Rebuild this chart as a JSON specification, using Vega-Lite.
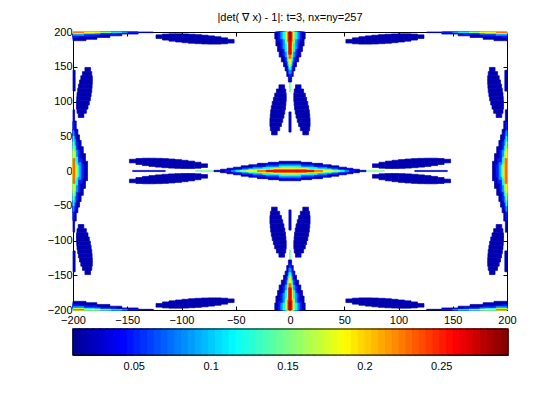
{"$schema":"https://vega.github.io/schema/vega-lite/v6.json","background":"white","padding":{"left":47,"top":12,"right":37,"bottom":30},"spacing":19,"bounds":"flush","config":{"view":{"stroke":null},"font":"Liberation Sans","axis":{"grid":false,"title":null,"tickSize":-4,"tickColor":"black","domainColor":"black","labelColor":"black","labelFont":"Liberation Sans","labelFontSize":11,"labelPadding":5,"zindex":1,"tickWidth":1,"domainWidth":1,"labelOverlap":false,"labelFlush":false}},"vconcat":[{"width":434,"height":278,"title":{"text":"|det( ∇ x) - 1|: t=3, nx=ny=257","fontSize":11,"font":"Liberation Sans","fontWeight":"normal","color":"black","offset":3,"anchor":"middle"},"data":{"values":[
{"a":-123.5,"b":-117.5,"c":190.7,"d":195.9,"v":0.02},{"a":-117.5,"b":-111.5,"c":188.4,"d":197,"v":0.02},{"a":-111.5,"b":-105.5,"c":186.8,"d":197.4,"v":0.02},{"a":-105.5,"b":-99.5,"c":185.6,"d":197.4,"v":0.02},{"a":-99.5,"b":-93.5,"c":184.6,"d":197.2,"v":0.02},{"a":-93.5,"b":-87.5,"c":183.8,"d":196.8,"v":0.02},{"a":-87.5,"b":-81.5,"c":183.2,"d":196.2,"v":0.02},{"a":-81.5,"b":-75.5,"c":182.8,"d":195.4,"v":0.02},{"a":-75.5,"b":-69.5,"c":182.6,"d":194.4,"v":0.02},{"a":-69.5,"b":-63.5,"c":182.6,"d":193.2,"v":0.02},{"a":-63.5,"b":-57.5,"c":183,"d":191.6,"v":0.02},{"a":-57.5,"b":-51.5,"c":184.1,"d":189.3,"v":0.02},
{"a":117.5,"b":123.5,"c":190.7,"d":195.9,"v":0.02},{"a":111.5,"b":117.5,"c":188.4,"d":197,"v":0.02},{"a":105.5,"b":111.5,"c":186.8,"d":197.4,"v":0.02},{"a":99.5,"b":105.5,"c":185.6,"d":197.4,"v":0.02},{"a":93.5,"b":99.5,"c":184.6,"d":197.2,"v":0.02},{"a":87.5,"b":93.5,"c":183.8,"d":196.8,"v":0.02},{"a":81.5,"b":87.5,"c":183.2,"d":196.2,"v":0.02},{"a":75.5,"b":81.5,"c":182.8,"d":195.4,"v":0.02},{"a":69.5,"b":75.5,"c":182.6,"d":194.4,"v":0.02},{"a":63.5,"b":69.5,"c":182.6,"d":193.2,"v":0.02},{"a":57.5,"b":63.5,"c":183,"d":191.6,"v":0.02},{"a":51.5,"b":57.5,"c":184.1,"d":189.3,"v":0.02},
{"a":-123.5,"b":-117.5,"c":-190.7,"d":-195.9,"v":0.02},{"a":-117.5,"b":-111.5,"c":-188.4,"d":-197,"v":0.02},{"a":-111.5,"b":-105.5,"c":-186.8,"d":-197.4,"v":0.02},{"a":-105.5,"b":-99.5,"c":-185.6,"d":-197.4,"v":0.02},{"a":-99.5,"b":-93.5,"c":-184.6,"d":-197.2,"v":0.02},{"a":-93.5,"b":-87.5,"c":-183.8,"d":-196.8,"v":0.02},{"a":-87.5,"b":-81.5,"c":-183.2,"d":-196.2,"v":0.02},{"a":-81.5,"b":-75.5,"c":-182.8,"d":-195.4,"v":0.02},{"a":-75.5,"b":-69.5,"c":-182.6,"d":-194.4,"v":0.02},{"a":-69.5,"b":-63.5,"c":-182.6,"d":-193.2,"v":0.02},{"a":-63.5,"b":-57.5,"c":-183,"d":-191.6,"v":0.02},{"a":-57.5,"b":-51.5,"c":-184.1,"d":-189.3,"v":0.02},
{"a":117.5,"b":123.5,"c":-190.7,"d":-195.9,"v":0.02},{"a":111.5,"b":117.5,"c":-188.4,"d":-197,"v":0.02},{"a":105.5,"b":111.5,"c":-186.8,"d":-197.4,"v":0.02},{"a":99.5,"b":105.5,"c":-185.6,"d":-197.4,"v":0.02},{"a":93.5,"b":99.5,"c":-184.6,"d":-197.2,"v":0.02},{"a":87.5,"b":93.5,"c":-183.8,"d":-196.8,"v":0.02},{"a":81.5,"b":87.5,"c":-183.2,"d":-196.2,"v":0.02},{"a":75.5,"b":81.5,"c":-182.8,"d":-195.4,"v":0.02},{"a":69.5,"b":75.5,"c":-182.6,"d":-194.4,"v":0.02},{"a":63.5,"b":69.5,"c":-182.6,"d":-193.2,"v":0.02},{"a":57.5,"b":63.5,"c":-183,"d":-191.6,"v":0.02},{"a":51.5,"b":57.5,"c":-184.1,"d":-189.3,"v":0.02},
{"a":-148,"b":-142,"c":11.7,"d":16.9,"v":0.02},{"a":-142,"b":-136,"c":9.4,"d":18,"v":0.02},{"a":-136,"b":-130,"c":7.8,"d":18.4,"v":0.02},{"a":-130,"b":-124,"c":6.6,"d":18.4,"v":0.02},{"a":-124,"b":-118,"c":5.6,"d":18.2,"v":0.02},{"a":-118,"b":-112,"c":4.8,"d":17.8,"v":0.02},{"a":-112,"b":-106,"c":4.2,"d":17.2,"v":0.02},{"a":-106,"b":-100,"c":3.8,"d":16.4,"v":0.02},{"a":-100,"b":-94,"c":3.6,"d":15.4,"v":0.02},{"a":-94,"b":-88,"c":3.6,"d":14.2,"v":0.02},{"a":-88,"b":-82,"c":4,"d":12.6,"v":0.02},{"a":-82,"b":-76,"c":5.1,"d":10.3,"v":0.02},
{"a":-148,"b":-142,"c":-11.7,"d":-16.9,"v":0.02},{"a":-142,"b":-136,"c":-9.4,"d":-18,"v":0.02},{"a":-136,"b":-130,"c":-7.8,"d":-18.4,"v":0.02},{"a":-130,"b":-124,"c":-6.6,"d":-18.4,"v":0.02},{"a":-124,"b":-118,"c":-5.6,"d":-18.2,"v":0.02},{"a":-118,"b":-112,"c":-4.8,"d":-17.8,"v":0.02},{"a":-112,"b":-106,"c":-4.2,"d":-17.2,"v":0.02},{"a":-106,"b":-100,"c":-3.8,"d":-16.4,"v":0.02},{"a":-100,"b":-94,"c":-3.6,"d":-15.4,"v":0.02},{"a":-94,"b":-88,"c":-3.6,"d":-14.2,"v":0.02},{"a":-88,"b":-82,"c":-4,"d":-12.6,"v":0.02},{"a":-82,"b":-76,"c":-5.1,"d":-10.3,"v":0.02},
{"a":142,"b":148,"c":11.7,"d":16.9,"v":0.02},{"a":136,"b":142,"c":9.4,"d":18,"v":0.02},{"a":130,"b":136,"c":7.8,"d":18.4,"v":0.02},{"a":124,"b":130,"c":6.6,"d":18.4,"v":0.02},{"a":118,"b":124,"c":5.6,"d":18.2,"v":0.02},{"a":112,"b":118,"c":4.8,"d":17.8,"v":0.02},{"a":106,"b":112,"c":4.2,"d":17.2,"v":0.02},{"a":100,"b":106,"c":3.8,"d":16.4,"v":0.02},{"a":94,"b":100,"c":3.6,"d":15.4,"v":0.02},{"a":88,"b":94,"c":3.6,"d":14.2,"v":0.02},{"a":82,"b":88,"c":4,"d":12.6,"v":0.02},{"a":76,"b":82,"c":5.1,"d":10.3,"v":0.02},
{"a":142,"b":148,"c":-11.7,"d":-16.9,"v":0.02},{"a":136,"b":142,"c":-9.4,"d":-18,"v":0.02},{"a":130,"b":136,"c":-7.8,"d":-18.4,"v":0.02},{"a":124,"b":130,"c":-6.6,"d":-18.4,"v":0.02},{"a":118,"b":124,"c":-5.6,"d":-18.2,"v":0.02},{"a":112,"b":118,"c":-4.8,"d":-17.8,"v":0.02},{"a":106,"b":112,"c":-4.2,"d":-17.2,"v":0.02},{"a":100,"b":106,"c":-3.8,"d":-16.4,"v":0.02},{"a":94,"b":100,"c":-3.6,"d":-15.4,"v":0.02},{"a":88,"b":94,"c":-3.6,"d":-14.2,"v":0.02},{"a":82,"b":88,"c":-4,"d":-12.6,"v":0.02},{"a":76,"b":82,"c":-5.1,"d":-10.3,"v":0.02},
{"a":-189,"b":-183.8,"c":143,"d":149,"v":0.02},{"a":-191.3,"b":-182.7,"c":137,"d":143,"v":0.02},{"a":-192.8,"b":-182.2,"c":131,"d":137,"v":0.02},{"a":-194,"b":-182.2,"c":125,"d":131,"v":0.02},{"a":-195,"b":-182.4,"c":119,"d":125,"v":0.02},{"a":-195.7,"b":-182.7,"c":113,"d":119,"v":0.02},{"a":-196.3,"b":-183.3,"c":107,"d":113,"v":0.02},{"a":-196.6,"b":-184,"c":101,"d":107,"v":0.02},{"a":-196.8,"b":-185,"c":95,"d":101,"v":0.02},{"a":-196.8,"b":-186.2,"c":89,"d":95,"v":0.02},{"a":-196.3,"b":-187.7,"c":83,"d":89,"v":0.02},{"a":-195.2,"b":-190,"c":77,"d":83,"v":0.02},
{"a":183.8,"b":189,"c":143,"d":149,"v":0.02},{"a":182.7,"b":191.3,"c":137,"d":143,"v":0.02},{"a":182.2,"b":192.8,"c":131,"d":137,"v":0.02},{"a":182.2,"b":194,"c":125,"d":131,"v":0.02},{"a":182.4,"b":195,"c":119,"d":125,"v":0.02},{"a":182.7,"b":195.7,"c":113,"d":119,"v":0.02},{"a":183.3,"b":196.3,"c":107,"d":113,"v":0.02},{"a":184,"b":196.6,"c":101,"d":107,"v":0.02},{"a":185,"b":196.8,"c":95,"d":101,"v":0.02},{"a":186.2,"b":196.8,"c":89,"d":95,"v":0.02},{"a":187.7,"b":196.3,"c":83,"d":89,"v":0.02},{"a":190,"b":195.2,"c":77,"d":83,"v":0.02},
{"a":-189,"b":-183.8,"c":-143,"d":-149,"v":0.02},{"a":-191.3,"b":-182.7,"c":-137,"d":-143,"v":0.02},{"a":-192.8,"b":-182.2,"c":-131,"d":-137,"v":0.02},{"a":-194,"b":-182.2,"c":-125,"d":-131,"v":0.02},{"a":-195,"b":-182.4,"c":-119,"d":-125,"v":0.02},{"a":-195.7,"b":-182.7,"c":-113,"d":-119,"v":0.02},{"a":-196.3,"b":-183.3,"c":-107,"d":-113,"v":0.02},{"a":-196.6,"b":-184,"c":-101,"d":-107,"v":0.02},{"a":-196.8,"b":-185,"c":-95,"d":-101,"v":0.02},{"a":-196.8,"b":-186.2,"c":-89,"d":-95,"v":0.02},{"a":-196.3,"b":-187.7,"c":-83,"d":-89,"v":0.02},{"a":-195.2,"b":-190,"c":-77,"d":-83,"v":0.02},
{"a":183.8,"b":189,"c":-143,"d":-149,"v":0.02},{"a":182.7,"b":191.3,"c":-137,"d":-143,"v":0.02},{"a":182.2,"b":192.8,"c":-131,"d":-137,"v":0.02},{"a":182.2,"b":194,"c":-125,"d":-131,"v":0.02},{"a":182.4,"b":195,"c":-119,"d":-125,"v":0.02},{"a":182.7,"b":195.7,"c":-113,"d":-119,"v":0.02},{"a":183.3,"b":196.3,"c":-107,"d":-113,"v":0.02},{"a":184,"b":196.6,"c":-101,"d":-107,"v":0.02},{"a":185,"b":196.8,"c":-95,"d":-101,"v":0.02},{"a":186.2,"b":196.8,"c":-89,"d":-95,"v":0.02},{"a":187.7,"b":196.3,"c":-83,"d":-89,"v":0.02},{"a":190,"b":195.2,"c":-77,"d":-83,"v":0.02},
{"a":5,"b":10.2,"c":118,"d":124,"v":0.02},{"a":3.9,"b":12.5,"c":112,"d":118,"v":0.02},{"a":3.5,"b":14.1,"c":106,"d":112,"v":0.02},{"a":3.5,"b":15.3,"c":100,"d":106,"v":0.02},{"a":3.8,"b":16.4,"c":94,"d":100,"v":0.02},{"a":4.2,"b":17.2,"c":88,"d":94,"v":0.02},{"a":4.8,"b":17.8,"c":82,"d":88,"v":0.02},{"a":5.6,"b":18.2,"c":76,"d":82,"v":0.02},{"a":6.7,"b":18.5,"c":70,"d":76,"v":0.02},{"a":7.9,"b":18.5,"c":64,"d":70,"v":0.02},{"a":9.5,"b":18.1,"c":58,"d":64,"v":0.02},{"a":11.8,"b":17,"c":52,"d":58,"v":0.02},
{"a":-10.2,"b":-5,"c":118,"d":124,"v":0.02},{"a":-12.5,"b":-3.9,"c":112,"d":118,"v":0.02},{"a":-14.1,"b":-3.5,"c":106,"d":112,"v":0.02},{"a":-15.3,"b":-3.5,"c":100,"d":106,"v":0.02},{"a":-16.4,"b":-3.8,"c":94,"d":100,"v":0.02},{"a":-17.2,"b":-4.2,"c":88,"d":94,"v":0.02},{"a":-17.8,"b":-4.8,"c":82,"d":88,"v":0.02},{"a":-18.2,"b":-5.6,"c":76,"d":82,"v":0.02},{"a":-18.5,"b":-6.7,"c":70,"d":76,"v":0.02},{"a":-18.5,"b":-7.9,"c":64,"d":70,"v":0.02},{"a":-18.1,"b":-9.5,"c":58,"d":64,"v":0.02},{"a":-17,"b":-11.8,"c":52,"d":58,"v":0.02},
{"a":5,"b":10.2,"c":-118,"d":-124,"v":0.02},{"a":3.9,"b":12.5,"c":-112,"d":-118,"v":0.02},{"a":3.5,"b":14.1,"c":-106,"d":-112,"v":0.02},{"a":3.5,"b":15.3,"c":-100,"d":-106,"v":0.02},{"a":3.8,"b":16.4,"c":-94,"d":-100,"v":0.02},{"a":4.2,"b":17.2,"c":-88,"d":-94,"v":0.02},{"a":4.8,"b":17.8,"c":-82,"d":-88,"v":0.02},{"a":5.6,"b":18.2,"c":-76,"d":-82,"v":0.02},{"a":6.7,"b":18.5,"c":-70,"d":-76,"v":0.02},{"a":7.9,"b":18.5,"c":-64,"d":-70,"v":0.02},{"a":9.5,"b":18.1,"c":-58,"d":-64,"v":0.02},{"a":11.8,"b":17,"c":-52,"d":-58,"v":0.02},
{"a":-10.2,"b":-5,"c":-118,"d":-124,"v":0.02},{"a":-12.5,"b":-3.9,"c":-112,"d":-118,"v":0.02},{"a":-14.1,"b":-3.5,"c":-106,"d":-112,"v":0.02},{"a":-15.3,"b":-3.5,"c":-100,"d":-106,"v":0.02},{"a":-16.4,"b":-3.8,"c":-94,"d":-100,"v":0.02},{"a":-17.2,"b":-4.2,"c":-88,"d":-94,"v":0.02},{"a":-17.8,"b":-4.8,"c":-82,"d":-88,"v":0.02},{"a":-18.2,"b":-5.6,"c":-76,"d":-82,"v":0.02},{"a":-18.5,"b":-6.7,"c":-70,"d":-76,"v":0.02},{"a":-18.5,"b":-7.9,"c":-64,"d":-70,"v":0.02},{"a":-18.1,"b":-9.5,"c":-58,"d":-64,"v":0.02},{"a":-17,"b":-11.8,"c":-52,"d":-58,"v":0.02},
{"a":-1,"b":1,"c":56,"d":85,"v":0.03},{"a":-1,"b":1,"c":-85,"d":-56,"v":0.03},{"a":-145,"b":-115,"c":-0.8,"d":0.8,"v":0.03},{"a":115,"b":145,"c":-0.8,"d":0.8,"v":0.03},{"a":-200,"b":-198,"c":115,"d":145,"v":0.02},{"a":198,"b":200,"c":115,"d":145,"v":0.02},{"a":-200,"b":-198,"c":-145,"d":-115,"v":0.02},{"a":198,"b":200,"c":-145,"d":-115,"v":0.02},
{"a":-87,"b":-66,"c":-0.4,"d":0.4,"v":0.15},{"a":66,"b":87,"c":-0.4,"d":0.4,"v":0.15},{"a":-0.3,"b":0.3,"c":114,"d":130,"v":0.15},{"a":-0.3,"b":0.3,"c":-130,"d":-114,"v":0.15},
{"a":-70,"b":70,"c":-1,"d":1,"v":0.02},{"a":-64,"b":64,"c":-2.5,"d":2.5,"v":0.02},{"a":-58,"b":58,"c":-4,"d":4,"v":0.02},{"a":-52,"b":52,"c":-5.5,"d":5.5,"v":0.02},{"a":-45,"b":45,"c":-7.5,"d":7.5,"v":0.02},{"a":-38,"b":38,"c":-9,"d":9,"v":0.02},{"a":-30,"b":30,"c":-11,"d":11,"v":0.02},{"a":-20,"b":20,"c":-12.5,"d":12.5,"v":0.02},{"a":-10,"b":10,"c":-14,"d":14,"v":0.02},
{"a":-60,"b":60,"c":-1,"d":1,"v":0.05},{"a":-52,"b":52,"c":-3,"d":3,"v":0.05},{"a":-44,"b":44,"c":-5,"d":5,"v":0.05},{"a":-34,"b":34,"c":-7.5,"d":7.5,"v":0.05},{"a":-22,"b":22,"c":-9.5,"d":9.5,"v":0.05},{"a":-10,"b":10,"c":-11,"d":11,"v":0.05},
{"a":-54,"b":54,"c":-1,"d":1,"v":0.085},{"a":-44,"b":44,"c":-3,"d":3,"v":0.085},{"a":-34,"b":34,"c":-5,"d":5,"v":0.085},{"a":-22,"b":22,"c":-7,"d":7,"v":0.085},{"a":-10,"b":10,"c":-9,"d":9,"v":0.085},
{"a":-50,"b":50,"c":-1,"d":1,"v":0.12},{"a":-38,"b":38,"c":-3,"d":3,"v":0.12},{"a":-25,"b":25,"c":-5,"d":5,"v":0.12},{"a":-10,"b":10,"c":-7,"d":7,"v":0.12},
{"a":-46,"b":46,"c":-1,"d":1,"v":0.155},{"a":-32,"b":32,"c":-2.5,"d":2.5,"v":0.155},{"a":-18,"b":18,"c":-4,"d":4,"v":0.155},{"a":-8,"b":8,"c":-5.5,"d":5.5,"v":0.155},
{"a":-40,"b":40,"c":-1,"d":1,"v":0.19},{"a":-28,"b":28,"c":-2,"d":2,"v":0.19},{"a":-15,"b":15,"c":-3.5,"d":3.5,"v":0.19},
{"a":-30,"b":30,"c":-1,"d":1,"v":0.23},{"a":-15,"b":15,"c":-2.2,"d":2.2,"v":0.23},{"a":-22,"b":22,"c":-1,"d":1,"v":0.265},
{"a":-200,"b":-198.5,"c":-88,"d":88,"v":0.02},{"a":-200,"b":-197,"c":-72,"d":72,"v":0.02},{"a":-200,"b":-195.5,"c":-60,"d":60,"v":0.02},{"a":-200,"b":-194,"c":-52,"d":52,"v":0.02},{"a":-200,"b":-192.5,"c":-44,"d":44,"v":0.02},{"a":-200,"b":-190.5,"c":-35,"d":35,"v":0.02},{"a":-200,"b":-188.5,"c":-25,"d":25,"v":0.02},{"a":-200,"b":-186.6,"c":-14,"d":14,"v":0.02},
{"a":-200,"b":-199,"c":-70,"d":70,"v":0.05},{"a":-200,"b":-197.5,"c":-55,"d":55,"v":0.05},{"a":-200,"b":-195.5,"c":-42,"d":42,"v":0.05},{"a":-200,"b":-193.5,"c":-30,"d":30,"v":0.05},{"a":-200,"b":-191.5,"c":-18,"d":18,"v":0.05},{"a":-200,"b":-190,"c":-9,"d":9,"v":0.05},
{"a":-200,"b":-199,"c":-58,"d":58,"v":0.085},{"a":-200,"b":-197.5,"c":-45,"d":45,"v":0.085},{"a":-200,"b":-195.5,"c":-30,"d":30,"v":0.085},{"a":-200,"b":-192.6,"c":-12,"d":12,"v":0.085},
{"a":-200,"b":-199,"c":-50,"d":50,"v":0.12},{"a":-200,"b":-197.5,"c":-36,"d":36,"v":0.12},{"a":-200,"b":-195.8,"c":-20,"d":20,"v":0.12},{"a":-200,"b":-194.5,"c":-8,"d":8,"v":0.12},
{"a":-200,"b":-199,"c":-42,"d":42,"v":0.155},{"a":-200,"b":-197.6,"c":-28,"d":28,"v":0.155},{"a":-200,"b":-195.9,"c":-10,"d":10,"v":0.155},
{"a":-200,"b":-199,"c":-32,"d":32,"v":0.19},{"a":-200,"b":-197.8,"c":-14,"d":14,"v":0.19},{"a":-200,"b":-197,"c":-6,"d":6,"v":0.19},{"a":-200,"b":-198.2,"c":-18,"d":18,"v":0.23},
{"a":198.5,"b":200,"c":-88,"d":88,"v":0.02},{"a":197,"b":200,"c":-72,"d":72,"v":0.02},{"a":195.5,"b":200,"c":-60,"d":60,"v":0.02},{"a":194,"b":200,"c":-52,"d":52,"v":0.02},{"a":192.5,"b":200,"c":-44,"d":44,"v":0.02},{"a":190.5,"b":200,"c":-35,"d":35,"v":0.02},{"a":188.5,"b":200,"c":-25,"d":25,"v":0.02},{"a":186.6,"b":200,"c":-14,"d":14,"v":0.02},
{"a":199,"b":200,"c":-70,"d":70,"v":0.05},{"a":197.5,"b":200,"c":-55,"d":55,"v":0.05},{"a":195.5,"b":200,"c":-42,"d":42,"v":0.05},{"a":193.5,"b":200,"c":-30,"d":30,"v":0.05},{"a":191.5,"b":200,"c":-18,"d":18,"v":0.05},{"a":190,"b":200,"c":-9,"d":9,"v":0.05},
{"a":199,"b":200,"c":-58,"d":58,"v":0.085},{"a":197.5,"b":200,"c":-45,"d":45,"v":0.085},{"a":195.5,"b":200,"c":-30,"d":30,"v":0.085},{"a":192.6,"b":200,"c":-12,"d":12,"v":0.085},
{"a":199,"b":200,"c":-50,"d":50,"v":0.12},{"a":197.5,"b":200,"c":-36,"d":36,"v":0.12},{"a":195.8,"b":200,"c":-20,"d":20,"v":0.12},{"a":194.5,"b":200,"c":-8,"d":8,"v":0.12},
{"a":199,"b":200,"c":-42,"d":42,"v":0.155},{"a":197.6,"b":200,"c":-28,"d":28,"v":0.155},{"a":195.9,"b":200,"c":-10,"d":10,"v":0.155},
{"a":199,"b":200,"c":-32,"d":32,"v":0.19},{"a":197.8,"b":200,"c":-14,"d":14,"v":0.19},{"a":197,"b":200,"c":-6,"d":6,"v":0.19},{"a":198.2,"b":200,"c":-18,"d":18,"v":0.23},
{"a":-1.5,"b":1.5,"c":128,"d":200,"v":0.02},{"a":-3,"b":3,"c":136,"d":200,"v":0.02},{"a":-4.5,"b":4.5,"c":144,"d":200,"v":0.02},{"a":-6,"b":6,"c":150,"d":200,"v":0.02},{"a":-8,"b":8,"c":157,"d":200,"v":0.02},{"a":-10,"b":10,"c":164,"d":200,"v":0.02},{"a":-11.5,"b":11.5,"c":172,"d":200,"v":0.02},{"a":-13,"b":13,"c":180,"d":200,"v":0.02},{"a":-14,"b":14,"c":190,"d":200,"v":0.02},
{"a":-1,"b":1,"c":134,"d":200,"v":0.05},{"a":-2.5,"b":2.5,"c":146,"d":200,"v":0.05},{"a":-4.5,"b":4.5,"c":156,"d":200,"v":0.05},{"a":-6.5,"b":6.5,"c":166,"d":200,"v":0.05},{"a":-8.5,"b":8.5,"c":176,"d":200,"v":0.05},{"a":-10.5,"b":10.5,"c":188,"d":200,"v":0.05},
{"a":-1,"b":1,"c":140,"d":200,"v":0.085},{"a":-2.5,"b":2.5,"c":152,"d":200,"v":0.085},{"a":-4.5,"b":4.5,"c":164,"d":200,"v":0.085},{"a":-6.5,"b":6.5,"c":176,"d":200,"v":0.085},{"a":-8.5,"b":8.5,"c":190,"d":200,"v":0.085},
{"a":-1,"b":1,"c":146,"d":200,"v":0.12},{"a":-2.5,"b":2.5,"c":158,"d":200,"v":0.12},{"a":-4.5,"b":4.5,"c":172,"d":200,"v":0.12},{"a":-6.5,"b":6.5,"c":190,"d":200,"v":0.12},
{"a":-1,"b":1,"c":150,"d":200,"v":0.155},{"a":-2.5,"b":2.5,"c":164,"d":200,"v":0.155},{"a":-4.2,"b":4.2,"c":184,"d":200,"v":0.155},
{"a":-1,"b":1,"c":154,"d":200,"v":0.19},{"a":-2.2,"b":2.2,"c":172,"d":200,"v":0.19},{"a":-3.3,"b":3.3,"c":190,"d":200,"v":0.19},
{"a":-1,"b":1,"c":162,"d":200,"v":0.23},{"a":-2.2,"b":2.2,"c":186,"d":200,"v":0.23},{"a":-1.2,"b":1.2,"c":168,"d":200,"v":0.265},{"a":-0.9,"b":0.9,"c":188,"d":200,"v":0.285},
{"a":-1.5,"b":1.5,"c":-200,"d":-128,"v":0.02},{"a":-3,"b":3,"c":-200,"d":-136,"v":0.02},{"a":-4.5,"b":4.5,"c":-200,"d":-144,"v":0.02},{"a":-6,"b":6,"c":-200,"d":-150,"v":0.02},{"a":-8,"b":8,"c":-200,"d":-157,"v":0.02},{"a":-10,"b":10,"c":-200,"d":-164,"v":0.02},{"a":-11.5,"b":11.5,"c":-200,"d":-172,"v":0.02},{"a":-13,"b":13,"c":-200,"d":-180,"v":0.02},{"a":-14,"b":14,"c":-200,"d":-190,"v":0.02},
{"a":-1,"b":1,"c":-200,"d":-134,"v":0.05},{"a":-2.5,"b":2.5,"c":-200,"d":-146,"v":0.05},{"a":-4.5,"b":4.5,"c":-200,"d":-156,"v":0.05},{"a":-6.5,"b":6.5,"c":-200,"d":-166,"v":0.05},{"a":-8.5,"b":8.5,"c":-200,"d":-176,"v":0.05},{"a":-10.5,"b":10.5,"c":-200,"d":-188,"v":0.05},
{"a":-1,"b":1,"c":-200,"d":-140,"v":0.085},{"a":-2.5,"b":2.5,"c":-200,"d":-152,"v":0.085},{"a":-4.5,"b":4.5,"c":-200,"d":-164,"v":0.085},{"a":-6.5,"b":6.5,"c":-200,"d":-176,"v":0.085},{"a":-8.5,"b":8.5,"c":-200,"d":-190,"v":0.085},
{"a":-1,"b":1,"c":-200,"d":-146,"v":0.12},{"a":-2.5,"b":2.5,"c":-200,"d":-158,"v":0.12},{"a":-4.5,"b":4.5,"c":-200,"d":-172,"v":0.12},{"a":-6.5,"b":6.5,"c":-200,"d":-190,"v":0.12},
{"a":-1,"b":1,"c":-200,"d":-150,"v":0.155},{"a":-2.5,"b":2.5,"c":-200,"d":-164,"v":0.155},{"a":-4.2,"b":4.2,"c":-200,"d":-184,"v":0.155},
{"a":-1,"b":1,"c":-200,"d":-154,"v":0.19},{"a":-2.2,"b":2.2,"c":-200,"d":-172,"v":0.19},{"a":-3.3,"b":3.3,"c":-200,"d":-190,"v":0.19},
{"a":-1,"b":1,"c":-200,"d":-162,"v":0.23},{"a":-2.2,"b":2.2,"c":-200,"d":-186,"v":0.23},{"a":-1.2,"b":1.2,"c":-200,"d":-168,"v":0.265},{"a":-0.9,"b":0.9,"c":-200,"d":-188,"v":0.285},
{"a":-200,"b":-126,"c":199,"d":200,"v":0.02},{"a":-200,"b":-140,"c":197,"d":200,"v":0.02},{"a":-200,"b":-155,"c":194.5,"d":200,"v":0.02},{"a":-200,"b":-166,"c":192,"d":200,"v":0.02},{"a":-200,"b":-178,"c":189.5,"d":200,"v":0.02},{"a":-200,"b":-188,"c":187.5,"d":200,"v":0.02},
{"a":-200,"b":-140,"c":199,"d":200,"v":0.05},{"a":-200,"b":-160,"c":196.5,"d":200,"v":0.05},{"a":-200,"b":-178,"c":194,"d":200,"v":0.05},{"a":-200,"b":-195,"c":192,"d":200,"v":0.05},
{"a":-200,"b":-150,"c":199,"d":200,"v":0.085},{"a":-200,"b":-175,"c":197,"d":200,"v":0.085},{"a":-200,"b":-190,"c":195,"d":200,"v":0.085},
{"a":-200,"b":-155,"c":199.5,"d":200,"v":0.12},{"a":-200,"b":-180,"c":198,"d":200,"v":0.12},{"a":-200,"b":-165,"c":199,"d":200,"v":0.155},{"a":-200,"b":-190,"c":197.5,"d":200,"v":0.155},{"a":-200,"b":-175,"c":199,"d":200,"v":0.19},{"a":-200,"b":-190,"c":198.5,"d":200,"v":0.19},{"a":-200,"b":-190,"c":199.3,"d":200,"v":0.23},
{"a":126,"b":200,"c":199,"d":200,"v":0.02},{"a":140,"b":200,"c":197,"d":200,"v":0.02},{"a":155,"b":200,"c":194.5,"d":200,"v":0.02},{"a":166,"b":200,"c":192,"d":200,"v":0.02},{"a":178,"b":200,"c":189.5,"d":200,"v":0.02},{"a":188,"b":200,"c":187.5,"d":200,"v":0.02},
{"a":140,"b":200,"c":199,"d":200,"v":0.05},{"a":160,"b":200,"c":196.5,"d":200,"v":0.05},{"a":178,"b":200,"c":194,"d":200,"v":0.05},{"a":195,"b":200,"c":192,"d":200,"v":0.05},
{"a":150,"b":200,"c":199,"d":200,"v":0.085},{"a":175,"b":200,"c":197,"d":200,"v":0.085},{"a":190,"b":200,"c":195,"d":200,"v":0.085},
{"a":155,"b":200,"c":199.5,"d":200,"v":0.12},{"a":180,"b":200,"c":198,"d":200,"v":0.12},{"a":165,"b":200,"c":199,"d":200,"v":0.155},{"a":190,"b":200,"c":197.5,"d":200,"v":0.155},{"a":175,"b":200,"c":199,"d":200,"v":0.19},{"a":190,"b":200,"c":198.5,"d":200,"v":0.19},{"a":190,"b":200,"c":199.3,"d":200,"v":0.23},
{"a":-200,"b":-126,"c":-200,"d":-199,"v":0.02},{"a":-200,"b":-140,"c":-200,"d":-197,"v":0.02},{"a":-200,"b":-155,"c":-200,"d":-194.5,"v":0.02},{"a":-200,"b":-166,"c":-200,"d":-192,"v":0.02},{"a":-200,"b":-178,"c":-200,"d":-189.5,"v":0.02},{"a":-200,"b":-188,"c":-200,"d":-187.5,"v":0.02},
{"a":-200,"b":-140,"c":-200,"d":-199,"v":0.05},{"a":-200,"b":-160,"c":-200,"d":-196.5,"v":0.05},{"a":-200,"b":-178,"c":-200,"d":-194,"v":0.05},{"a":-200,"b":-195,"c":-200,"d":-192,"v":0.05},
{"a":-200,"b":-150,"c":-200,"d":-199,"v":0.085},{"a":-200,"b":-175,"c":-200,"d":-197,"v":0.085},{"a":-200,"b":-190,"c":-200,"d":-195,"v":0.085},
{"a":-200,"b":-155,"c":-200,"d":-199.5,"v":0.12},{"a":-200,"b":-180,"c":-200,"d":-198,"v":0.12},{"a":-200,"b":-165,"c":-200,"d":-199,"v":0.155},{"a":-200,"b":-190,"c":-200,"d":-197.5,"v":0.155},{"a":-200,"b":-175,"c":-200,"d":-199,"v":0.19},{"a":-200,"b":-190,"c":-200,"d":-198.5,"v":0.19},{"a":-200,"b":-190,"c":-200,"d":-199.3,"v":0.23},
{"a":126,"b":200,"c":-200,"d":-199,"v":0.02},{"a":140,"b":200,"c":-200,"d":-197,"v":0.02},{"a":155,"b":200,"c":-200,"d":-194.5,"v":0.02},{"a":166,"b":200,"c":-200,"d":-192,"v":0.02},{"a":178,"b":200,"c":-200,"d":-189.5,"v":0.02},{"a":188,"b":200,"c":-200,"d":-187.5,"v":0.02},
{"a":140,"b":200,"c":-200,"d":-199,"v":0.05},{"a":160,"b":200,"c":-200,"d":-196.5,"v":0.05},{"a":178,"b":200,"c":-200,"d":-194,"v":0.05},{"a":195,"b":200,"c":-200,"d":-192,"v":0.05},
{"a":150,"b":200,"c":-200,"d":-199,"v":0.085},{"a":175,"b":200,"c":-200,"d":-197,"v":0.085},{"a":190,"b":200,"c":-200,"d":-195,"v":0.085},
{"a":155,"b":200,"c":-200,"d":-199.5,"v":0.12},{"a":180,"b":200,"c":-200,"d":-198,"v":0.12},{"a":165,"b":200,"c":-200,"d":-199,"v":0.155},{"a":190,"b":200,"c":-200,"d":-197.5,"v":0.155},{"a":175,"b":200,"c":-200,"d":-199,"v":0.19},{"a":190,"b":200,"c":-200,"d":-198.5,"v":0.19},{"a":190,"b":200,"c":-200,"d":-199.3,"v":0.23}
]},"layer":[{"mark":{"type":"rect","strokeWidth":0.7},"encoding":{"x":{"field":"a","type":"quantitative","scale":{"domain":[-200,200],"nice":false},"axis":{"orient":"bottom","labelPadding":8,"values":[-200,-150,-100,-50,0,50,100,150,200]}},"x2":{"field":"b"},"y":{"field":"c","type":"quantitative","scale":{"domain":[-200,200],"nice":false},"axis":{"orient":"left","values":[-200,-150,-100,-50,0,50,100,150,200]}},"y2":{"field":"d"},"fill":{"field":"v","type":"quantitative","legend":null,"scale":{"domain":[0.0105,0.0425,0.116,0.1875,0.259,0.2933],"range":["#00008f","#0000ff","#00ffff","#ffff00","#ff0000","#800000"],"interpolate":"rgb"}},"stroke":{"field":"v","type":"quantitative","legend":null,"scale":{"domain":[0.0105,0.0425,0.116,0.1875,0.259,0.2933],"range":["#00008f","#0000ff","#00ffff","#ffff00","#ff0000","#800000"],"interpolate":"rgb"}}}},{"data":{"values":[{"a":-200,"c":-200}]},"mark":{"type":"point","opacity":0},"encoding":{"x":{"field":"a","type":"quantitative","scale":{"domain":[-200,200],"nice":false},"axis":{"orient":"top","labels":false,"values":[-200,-150,-100,-50,0,50,100,150,200]}},"y":{"field":"c","type":"quantitative","scale":{"domain":[-200,200],"nice":false},"axis":{"orient":"right","labels":false,"values":[-200,-150,-100,-50,0,50,100,150,200]}}}}],"resolve":{"axis":{"x":"independent","y":"independent"}}},
{"width":435,"height":26,"data":{"values":[{"a":0.0105,"b":0.0149,"v":0.0127},{"a":0.0149,"b":0.0193,"v":0.0171},{"a":0.0193,"b":0.0238,"v":0.0215},{"a":0.0238,"b":0.0282,"v":0.026},{"a":0.0282,"b":0.0326,"v":0.0304},{"a":0.0326,"b":0.037,"v":0.0348},{"a":0.037,"b":0.0414,"v":0.0392},{"a":0.0414,"b":0.0459,"v":0.0436},{"a":0.0459,"b":0.0503,"v":0.0481},{"a":0.0503,"b":0.0547,"v":0.0525},{"a":0.0547,"b":0.0591,"v":0.0569},{"a":0.0591,"b":0.0635,"v":0.0613},{"a":0.0635,"b":0.068,"v":0.0657},{"a":0.068,"b":0.0724,"v":0.0702},{"a":0.0724,"b":0.0768,"v":0.0746},{"a":0.0768,"b":0.0812,"v":0.079},{"a":0.0812,"b":0.0856,"v":0.0834},{"a":0.0856,"b":0.0901,"v":0.0878},{"a":0.0901,"b":0.0945,"v":0.0923},{"a":0.0945,"b":0.0989,"v":0.0967},{"a":0.0989,"b":0.1033,"v":0.1011},{"a":0.1033,"b":0.1077,"v":0.1055},{"a":0.1077,"b":0.1122,"v":0.1099},{"a":0.1122,"b":0.1166,"v":0.1144},{"a":0.1166,"b":0.121,"v":0.1188},{"a":0.121,"b":0.1254,"v":0.1232},{"a":0.1254,"b":0.1298,"v":0.1276},{"a":0.1298,"b":0.1343,"v":0.132},{"a":0.1343,"b":0.1387,"v":0.1365},{"a":0.1387,"b":0.1431,"v":0.1409},{"a":0.1431,"b":0.1475,"v":0.1453},{"a":0.1475,"b":0.1519,"v":0.1497},{"a":0.1519,"b":0.1564,"v":0.1541},{"a":0.1564,"b":0.1608,"v":0.1586},{"a":0.1608,"b":0.1652,"v":0.163},{"a":0.1652,"b":0.1696,"v":0.1674},{"a":0.1696,"b":0.174,"v":0.1718},{"a":0.174,"b":0.1785,"v":0.1762},{"a":0.1785,"b":0.1829,"v":0.1807},{"a":0.1829,"b":0.1873,"v":0.1851},{"a":0.1873,"b":0.1917,"v":0.1895},{"a":0.1917,"b":0.1961,"v":0.1939},{"a":0.1961,"b":0.2006,"v":0.1983},{"a":0.2006,"b":0.205,"v":0.2028},{"a":0.205,"b":0.2094,"v":0.2072},{"a":0.2094,"b":0.2138,"v":0.2116},{"a":0.2138,"b":0.2182,"v":0.216},{"a":0.2182,"b":0.2227,"v":0.2204},{"a":0.2227,"b":0.2271,"v":0.2249},{"a":0.2271,"b":0.2315,"v":0.2293},{"a":0.2315,"b":0.2359,"v":0.2337},{"a":0.2359,"b":0.2403,"v":0.2381},{"a":0.2403,"b":0.2448,"v":0.2425},{"a":0.2448,"b":0.2492,"v":0.247},{"a":0.2492,"b":0.2536,"v":0.2514},{"a":0.2536,"b":0.258,"v":0.2558},{"a":0.258,"b":0.2624,"v":0.2602},{"a":0.2624,"b":0.2669,"v":0.2646},{"a":0.2669,"b":0.2713,"v":0.2691},{"a":0.2713,"b":0.2757,"v":0.2735},{"a":0.2757,"b":0.2801,"v":0.2779},{"a":0.2801,"b":0.2845,"v":0.2823},{"a":0.2845,"b":0.289,"v":0.2867},{"a":0.289,"b":0.2934,"v":0.2912}]},"layer":[{"mark":{"type":"rect","strokeWidth":1.5},"encoding":{"x":{"field":"a","type":"quantitative","scale":{"domain":[0.0105,0.2934],"nice":false},"axis":{"orient":"bottom","values":[0.05,0.1,0.15,0.2,0.25],"format":".2~f","labelPadding":9}},"x2":{"field":"b"},"y":{"datum":0,"type":"quantitative","scale":{"domain":[0,1]},"axis":null},"y2":{"datum":1},"fill":{"field":"v","type":"quantitative","legend":null,"scale":{"domain":[0.0105,0.0425,0.116,0.1875,0.259,0.2933],"range":["#00008f","#0000ff","#00ffff","#ffff00","#ff0000","#800000"],"interpolate":"rgb"}},"stroke":{"field":"v","type":"quantitative","legend":null,"scale":{"domain":[0.0105,0.0425,0.116,0.1875,0.259,0.2933],"range":["#00008f","#0000ff","#00ffff","#ffff00","#ff0000","#800000"],"interpolate":"rgb"}}}},{"data":{"values":[{"a":0.0105,"b":0.2934}]},"mark":{"type":"rect","fill":null,"stroke":"black","strokeWidth":1},"encoding":{"x":{"field":"a","type":"quantitative","scale":{"domain":[0.0105,0.2934],"nice":false},"axis":{"orient":"top","labels":false,"values":[0.05,0.1,0.15,0.2,0.25]}},"x2":{"field":"b"},"y":{"datum":0,"type":"quantitative","scale":{"domain":[0,1]},"axis":null},"y2":{"datum":1}}}],"resolve":{"axis":{"x":"independent"}}}]}
